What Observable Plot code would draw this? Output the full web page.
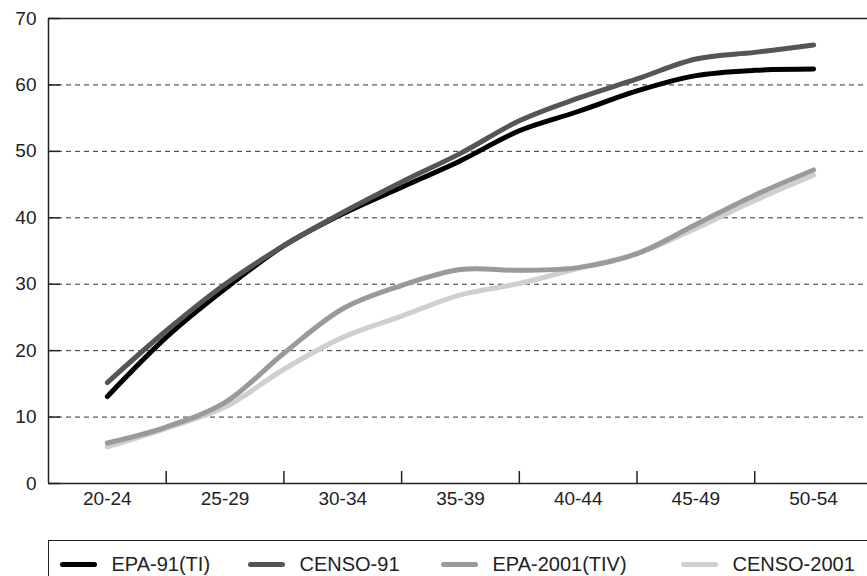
<!DOCTYPE html>
<html><head><meta charset="utf-8">
<script src="https://cdn.jsdelivr.net/npm/d3@7"></script>
<script src="https://cdn.jsdelivr.net/npm/@observablehq/plot@0.6"></script>
<style>
body{margin:0;background:#fff;font-family:"Liberation Sans",Arial,sans-serif;}
#wrap{position:relative;width:867px;height:576px;overflow:hidden;background:#fff;}
#legend{position:absolute;left:48px;top:540px;width:840px;height:60px;border:1.5px solid #222;box-sizing:border-box;}
.item{position:absolute;top:11px;height:24px;display:flex;align-items:center;font-size:20px;color:#222;white-space:nowrap;}
.sw{width:37px;height:5px;border-radius:3px;margin-right:15px;}
</style></head>
<body><div id="wrap"><div id="chart"></div><div id="legend"></div></div>
<script>
const ageGroups = ["20-24","25-29","30-34","35-39","40-44","45-49","50-54"];
// sample positions in age-group units (0 = 20-24 centre, 0.5 = boundary, ...)
const positions = [0,0.5,1,1.5,2,2.5,3,3.5,4,4.5,5,5.5,6];
const yTicks = [0,10,20,30,40,50,60,70];
const seriesNames = ["EPA-91(TI)","CENSO-91","EPA-2001(TIV)","CENSO-2001"];
const seriesColors = ["#000000","#555555","#9a9a9a","#cfcfcf"];
const epa91     = [13.1,22.0,29.3,35.8,40.6,44.6,48.6,53.1,56.0,59.1,61.4,62.2,62.4];
const censo91   = [15.2,23.0,30.0,35.8,40.8,45.4,49.7,54.6,58.0,60.9,63.9,64.9,66.0];
const epa2001   = [6.1,8.5,12.2,19.6,26.3,29.8,32.2,32.1,32.5,34.6,39.0,43.4,47.2];
const censo2001 = [5.5,8.3,11.5,17.2,22.0,25.2,28.4,30.1,32.4,34.6,38.4,42.6,46.4];

const valuesBySeries = {"EPA-91(TI)": epa91, "CENSO-91": censo91, "EPA-2001(TIV)": epa2001, "CENSO-2001": censo2001};
const drawOrder = ["CENSO-2001","EPA-2001(TIV)","EPA-91(TI)","CENSO-91"];
const rows = drawOrder.flatMap(s => valuesBySeries[s].map((v, i) => ({series: s, x: positions[i], v})));
const boundaries = [0.5,1.5,2.5,3.5,4.5,5.5];

const chart = Plot.plot({
  width: 867, height: 520,
  marginTop: 18, marginBottom: 37, marginLeft: 48, marginRight: 0,
  style: {fontFamily: "'Liberation Sans', Arial, sans-serif", fontSize: "19px", color: "#222", background: "#fff", overflow: "visible"},
  x: {domain: [-0.5, 6.458], axis: null},
  y: {domain: [0, 70], axis: null},
  color: {domain: seriesNames, range: seriesColors},
  marks: [
    Plot.gridY(yTicks.slice(1, -1), {stroke: "#333", strokeOpacity: 1, strokeDasharray: "5,4", strokeWidth: 1}),
    Plot.axisY(yTicks, {tickSize: 0, tickPadding: 12, fontSize: 19, label: null}),
    Plot.axisY(yTicks, {tickSize: -12, tickFormat: () => "", label: null, stroke: "#222", strokeWidth: 1.5}),
    Plot.axisX(d3.range(ageGroups.length), {tickSize: 0, tickPadding: 8, fontSize: 19, label: null, tickFormat: i => ageGroups[i]}),
    Plot.axisX(boundaries, {tickSize: -12, tickFormat: () => "", label: null, stroke: "#222", strokeWidth: 1.5}),
    Plot.ruleY([0, 70], {stroke: "#222", strokeWidth: 1.5}),
    Plot.ruleX([-0.5], {stroke: "#222", strokeWidth: 1.5}),
    Plot.line(rows, {x: "x", y: "v", z: "series", stroke: "series", strokeWidth: 5, curve: "catmull-rom", strokeLinecap: "round", strokeLinejoin: "round"})
  ]
});
document.getElementById("chart").appendChild(chart);

const legend = document.getElementById("legend");
const legendLeft = [10.5, 198.5, 391.5, 631.5];
seriesNames.forEach((name, i) => {
  const it = document.createElement("div");
  it.className = "item";
  it.style.left = legendLeft[i] + "px";
  const sw = document.createElement("div");
  sw.className = "sw";
  sw.style.background = seriesColors[i];
  const tx = document.createElement("span");
  tx.textContent = name;
  it.appendChild(sw); it.appendChild(tx);
  legend.appendChild(it);
});
</script>
</body></html>
